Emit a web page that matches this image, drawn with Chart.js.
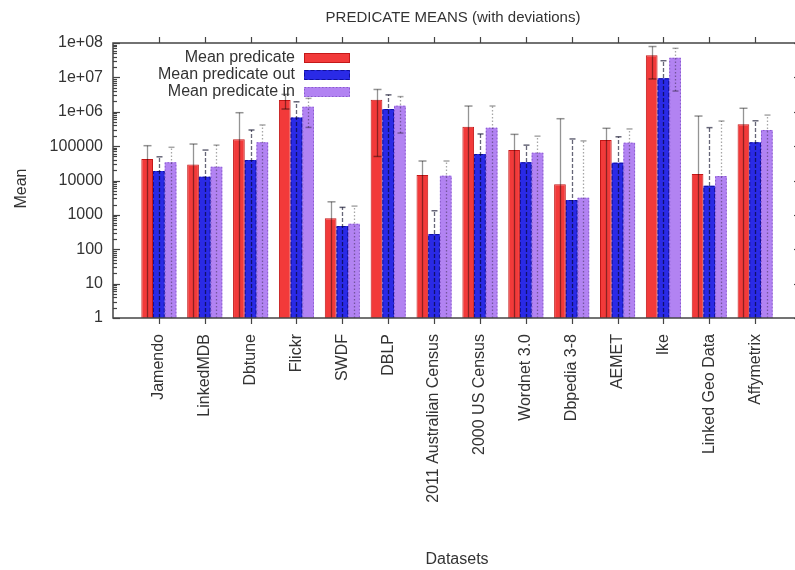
<!DOCTYPE html>
<html><head><meta charset="utf-8">
<script src="https://cdn.jsdelivr.net/npm/chart.js@4/dist/chart.umd.min.js"></script>
<style>html,body{margin:0;padding:0;overflow:hidden;background:#fff}#wrap{width:810px;height:570px}</style>
</head><body><div id="wrap"><canvas id="c" width="810" height="570"></canvas></div>
<script>
const chartTitle = 'PREDICATE MEANS (with deviations)';
const xTitle = 'Datasets';
const yTitle = 'Mean';
const categories = ['Jamendo','LinkedMDB','Dbtune','Flickr','SWDF','DBLP','2011 Australian Census','2000 US Census','Wordnet 3.0','Dbpedia 3-8','AEMET','Ike','Linked Geo Data','Affymetrix'];
const seriesNames = ['Mean predicate','Mean predicate out','Mean predicate in'];
const meanPredicate    = [42000, 29000, 158000, 2200000, 800, 2250000, 14500, 367000, 77000, 7800, 150000, 44000000, 15500, 432000];
const devPredicate     = [61000, 86000, 780000, 1000000, 1600, 2200000, 22400, 1100000, 143000, 620000, 180000, 35000000, 735000, 830000];
const meanPredicateOut = [18900, 12900, 39500, 676000, 474, 1200000, 276, 59000, 33900, 2700, 33000, 9400000, 7000, 129000];
const devPredicateOut  = [30000, 64000, 255000, 1270000, 1180, 1900000, 1040, 167000, 73000, 159000, 154000, 21100000, 338000, 417000];
const meanPredicateIn  = [33900, 25100, 129000, 1400000, 550, 1500000, 13800, 344000, 64600, 3150, 126000, 37000000, 13500, 295000];
const devPredicateIn   = [58600, 81900, 283000, 1050000, 1250, 1260000, 23100, 1126000, 130400, 138850, 190000, 33000000, 523500, 505000];
const yTickValues = [1, 10, 100, 1000, 10000, 100000, 1000000, 10000000, 100000000];
const yTickLabels = ['1','10','100','1000','10000','100000','1e+06','1e+07','1e+08'];

const means = [meanPredicate, meanPredicateOut, meanPredicateIn];
const devs = [devPredicate, devPredicateOut, devPredicateIn];
const fills = ['#f23a3a', '#2a2ae6', '#b283f2'];
const edges = ['#c41818', '#10109a', '#8a5ccc'];
const edgeDash = [[], [4, 2], [1.5, 2]];
const errStyle = [
  {color: 'rgba(0,0,0,0.42)', dash: [], cap: 4},
  {color: 'rgba(0,0,30,0.6)', dash: [4, 2], cap: 3},
  {color: 'rgba(0,0,0,0.35)', dash: [1.5, 2], cap: 3}
];
const FONT = "'Liberation Sans', Arial, Helvetica, sans-serif";
const TXT = '#333';
Chart.defaults.font.family = FONT;

const decoPlugin = {
  id: 'deco',
  afterDatasetsDraw(chart) {
    const ctx = chart.ctx, ys = chart.scales.y, ca = chart.chartArea;
    ctx.save();
    // dashed / dotted outlines for out/in bars
    for (let d = 1; d < 3; d++) {
      const meta = chart.getDatasetMeta(d);
      meta.data.forEach(bar => {
        const p = bar.getProps(['x','y','base','width'], true);
        const l = p.x - p.width / 2, r = p.x + p.width / 2;
        ctx.strokeStyle = edges[d]; ctx.lineWidth = 1; ctx.setLineDash(edgeDash[d]);
        ctx.beginPath();
        ctx.moveTo(l + 0.5, p.base); ctx.lineTo(l + 0.5, p.y + 0.5); ctx.lineTo(r - 0.5, p.y + 0.5); ctx.lineTo(r - 0.5, p.base);
        ctx.stroke();
      });
    }
    // error bars
    for (let d = 0; d < 3; d++) {
      const meta = chart.getDatasetMeta(d);
      const st = errStyle[d];
      meta.data.forEach((bar, i) => {
        const m = means[d][i], dv = devs[d][i];
        const hi = m + dv, lo = m - dv;
        const yHi = ys.getPixelForValue(hi);
        const yLo = lo >= 1 ? ys.getPixelForValue(lo) : ca.bottom;
        const x = Math.round(bar.x) + 0.5;
        ctx.strokeStyle = st.color; ctx.lineWidth = 1.3; ctx.setLineDash(st.dash);
        ctx.beginPath(); ctx.moveTo(x, yLo); ctx.lineTo(x, yHi); ctx.stroke();
        ctx.setLineDash([]);
        ctx.lineWidth = 1.5;
        ctx.beginPath(); ctx.moveTo(x - st.cap, yHi); ctx.lineTo(x + st.cap, yHi); ctx.stroke();
        if (lo >= 1) { ctx.beginPath(); ctx.moveTo(x - st.cap, yLo); ctx.lineTo(x + st.cap, yLo); ctx.stroke(); }
      });
    }
    ctx.restore();
  },
  afterDraw(chart) {
    const ctx = chart.ctx, ca = chart.chartArea, ys = chart.scales.y, xs = chart.scales.x;
    ctx.save();
    ctx.strokeStyle = '#444'; ctx.lineWidth = 1.5; ctx.setLineDash([]);
    ctx.strokeRect(ca.left, ca.top, ca.right - ca.left, ca.bottom - ca.top);
    ctx.lineWidth = 1.2;
    // x ticks: outward bottom and top
    categories.forEach((c, i) => {
      const x = Math.round(xs.getPixelForValue(i)) + 0.5;
      ctx.beginPath(); ctx.moveTo(x, ca.bottom); ctx.lineTo(x, ca.bottom + 6); ctx.stroke();
      ctx.beginPath(); ctx.moveTo(x, ca.top); ctx.lineTo(x, ca.top - 6); ctx.stroke();
    });
    // y ticks inward, major and minor
    yTickValues.forEach((v, k) => {
      const y = Math.round(ys.getPixelForValue(v)) + 0.5;
      ctx.beginPath(); ctx.moveTo(ca.left, y); ctx.lineTo(ca.left + 7, y); ctx.stroke();
      ctx.beginPath(); ctx.moveTo(ca.right, y); ctx.lineTo(ca.right - 7, y); ctx.stroke();
      if (k < yTickValues.length - 1) {
        for (let m = 2; m <= 9; m++) {
          const ym = Math.round(ys.getPixelForValue(v * m)) + 0.5;
          ctx.beginPath(); ctx.moveTo(ca.left, ym); ctx.lineTo(ca.left + 4, ym); ctx.stroke();
          ctx.beginPath(); ctx.moveTo(ca.right, ym); ctx.lineTo(ca.right - 4, ym); ctx.stroke();
        }
      }
    });
    // titles
    ctx.fillStyle = TXT;
    ctx.font = '15px ' + FONT;
    ctx.textAlign = 'center'; ctx.textBaseline = 'middle';
    ctx.fillText(chartTitle, (ca.left + ca.right) / 2 - 4, 18);
    ctx.font = '16px ' + FONT;
    ctx.fillText(xTitle, (ca.left + ca.right) / 2, 560);
    ctx.save(); ctx.translate(22, (ca.top + ca.bottom) / 2 + 8); ctx.rotate(-Math.PI / 2);
    ctx.fillText(yTitle, 0, 0); ctx.restore();
    // legend
    ctx.textAlign = 'right';
    seriesNames.forEach((name, d) => {
      const yy = ca.top + 15 + d * 17;
      ctx.fillStyle = TXT;
      ctx.fillText(name, 295, yy);
      ctx.fillStyle = fills[d];
      ctx.fillRect(304, yy - 5, 46, 10);
      ctx.strokeStyle = edges[d]; ctx.lineWidth = 1; ctx.setLineDash(edgeDash[d]);
      ctx.strokeRect(304.5, yy - 4.5, 45, 9);
      ctx.setLineDash([]);
    });
    ctx.restore();
  }
};

const datasets = means.map((arr, d) => ({
  label: seriesNames[d],
  data: arr.map((v, i) => ({x: i, y: v})),
  backgroundColor: fills[d],
  borderColor: edges[d],
  borderWidth: d === 0 ? 1 : 0,
  categoryPercentage: 0.765,
  barPercentage: 1
}));

new Chart(document.getElementById('c'), {
  type: 'bar',
  data: {datasets},
  options: {
    responsive: false,
    animation: false,
    layout: {padding: {left: 0, top: 43, right: 9, bottom: 0}},
    plugins: {legend: {display: false}, title: {display: false}, tooltip: {enabled: false}},
    scales: {
      x: {
        type: 'linear', min: -1, max: 14, offset: false,
        grid: {display: false, drawTicks: false}, border: {display: false},
        afterBuildTicks: s => { s.ticks = categories.map((c, i) => ({value: i})); },
        afterFit: s => { s.height = 570 - 318; },
        ticks: {autoSkip: false, minRotation: 90, maxRotation: 90, padding: 16,
          font: {size: 16, family: FONT}, color: TXT,
          callback: v => categories[v]}
      },
      y: {
        type: 'logarithmic', min: 1, max: 1e8,
        grid: {display: false, drawTicks: false}, border: {display: false},
        afterBuildTicks: s => { s.ticks = yTickValues.map(v => ({value: v})); },
        afterFit: s => { s.width = 113; },
        ticks: {padding: 10, font: {size: 16, family: FONT}, color: TXT,
          callback: (v, i) => yTickLabels[i]}
      }
    }
  },
  plugins: [decoPlugin]
});
</script></body></html>
